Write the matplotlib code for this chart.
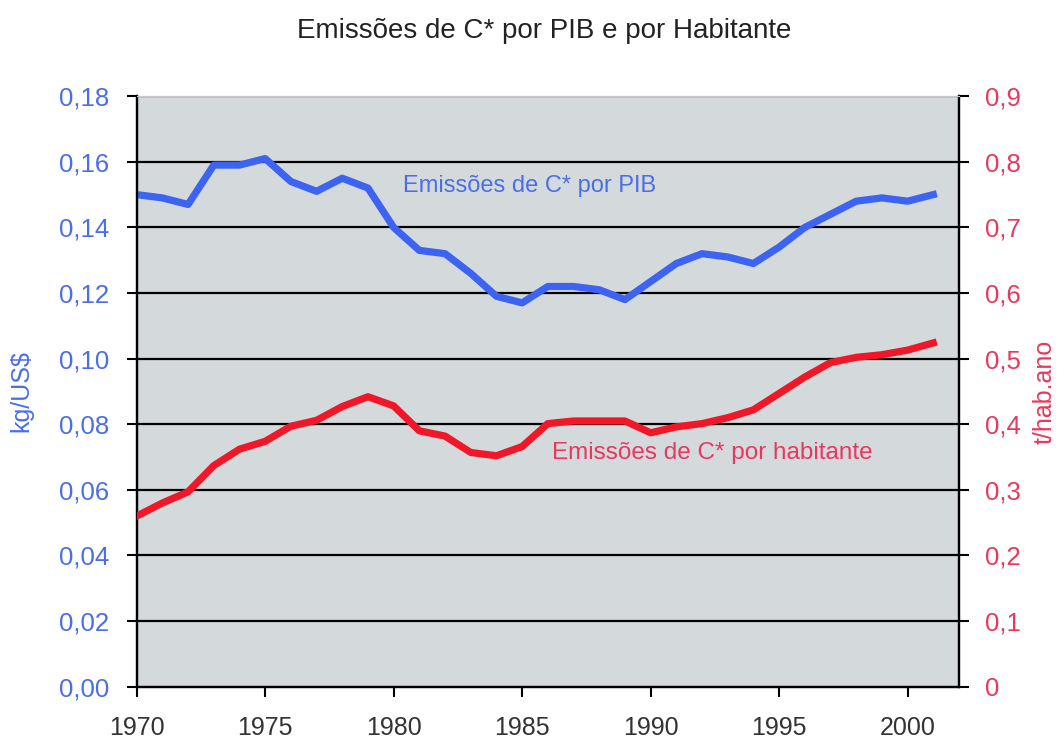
import numpy as np
import matplotlib
matplotlib.use("Agg")
from matplotlib import pyplot as plt

plt.rcParams['font.family'] = ['Liberation Sans', 'DejaVu Sans']

years = list(range(1970, 2002))
por_pib = [0.150, 0.149, 0.147, 0.159, 0.159, 0.161, 0.154, 0.151, 0.155, 0.152,
           0.140, 0.133, 0.132, 0.126, 0.119, 0.117, 0.122, 0.122, 0.121, 0.118,
           0.1235, 0.129, 0.132, 0.131, 0.129, 0.134, 0.140, 0.144, 0.148, 0.149,
           0.148, 0.150]
por_hab = [0.260, 0.280, 0.297, 0.337, 0.362, 0.374, 0.397, 0.406, 0.427, 0.442,
           0.428, 0.390, 0.382, 0.357, 0.352, 0.366, 0.401, 0.405, 0.405, 0.405,
           0.387, 0.396, 0.401, 0.410, 0.422, 0.447, 0.472, 0.494, 0.502, 0.506,
           0.513, 0.524]

left_ticks = np.arange(0, 0.181, 0.02)
right_ticks = np.arange(0, 0.91, 0.1)
x_ticks = [1970, 1975, 1980, 1985, 1990, 1995, 2000]

blue = '#3d63f2'
red = '#f01828'
blue_txt = '#4a6ee6'
red_txt = '#e8385e'

fig = plt.figure(figsize=(10.62, 7.40), dpi=100)
ax = fig.add_axes([0.1287, 0.072, 0.903 - 0.1287, 0.870 - 0.072])
ax.set_facecolor('#d4dadb')
ax2 = ax.twinx()

ax.set_xlim(1970, 2002)
ax.set_ylim(0, 0.18)
ax2.set_ylim(0, 0.9)

for v in left_ticks[1:]:
    ax.axhline(v, color='black', lw=1.6, zorder=1)

ax.plot(years, por_pib, color=blue, lw=5.2, solid_joinstyle='round', zorder=3)
ax2.plot(years, por_hab, color=red, lw=5.2, solid_joinstyle='round', zorder=3)

ax.set_xticks(x_ticks)
ax.set_xticklabels([str(x) for x in x_ticks], fontsize=18, color='#333333')
ax.set_yticks(left_ticks)
ax.set_yticklabels([f"{v:.2f}".replace('.', ',') for v in left_ticks],
                   fontsize=18.5, color=blue_txt)
ax2.set_yticks(right_ticks)
ax2.set_yticklabels(['0'] + [f"{v:.1f}".replace('.', ',') for v in right_ticks[1:]],
                    fontsize=18.5, color=red_txt)

ax.tick_params(axis='x', direction='out', length=7, width=1.5, pad=14)
ax.tick_params(axis='y', direction='out', length=7, width=1.5, pad=13)
ax2.tick_params(axis='y', direction='out', length=7, width=1.5, pad=12)

for a in (ax, ax2):
    a.spines['top'].set_color('#c8c8c8')
    a.spines['left'].set_linewidth(1.6)
    a.spines['right'].set_linewidth(1.6)
    a.spines['bottom'].set_linewidth(1.6)

ax.set_ylabel('kg/US$', fontsize=18, color=blue_txt, labelpad=18)
ax2.set_ylabel('t/hab.ano', fontsize=18, color=red_txt, labelpad=8)

ax.text(1980.35, 0.1525, 'Emissões de C* por PIB', fontsize=17, color=blue_txt,
        va='center', ha='left')
ax2.text(1986.15, 0.356, 'Emissões de C* por habitante', fontsize=17.5, color=red_txt,
         va='center', ha='left')

fig.text(0.512, 0.958, 'Emissões de C* por PIB e por Habitante', fontsize=20,
         color='#222222', ha='center', va='center')

fig.savefig('out.png', dpi=100)
